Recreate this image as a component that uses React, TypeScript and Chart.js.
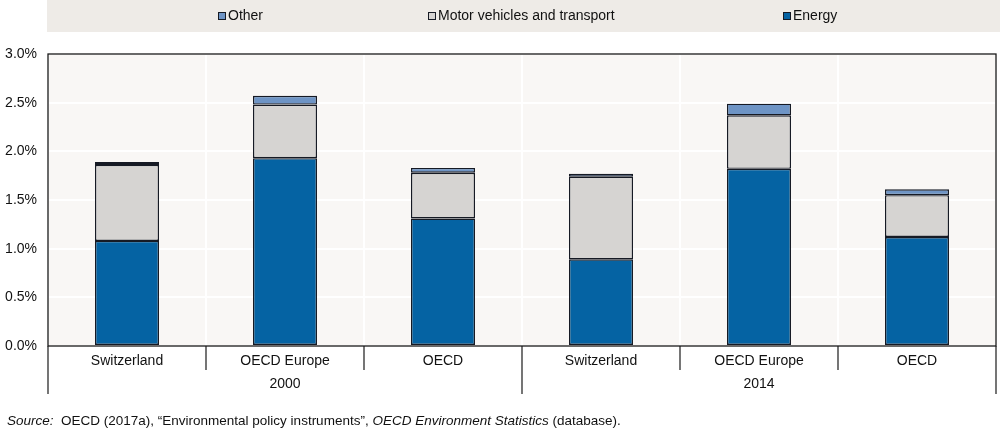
import React, { useEffect, useRef } from "react";
import { Chart, registerables } from "chart.js";

Chart.register(...registerables);

const categories = ["Switzerland", "OECD Europe", "OECD", "Switzerland", "OECD Europe", "OECD"];
const groupLabels = ["2000", "2014"];
const energy = [1.08, 1.93, 1.31, 0.89, 1.82, 1.12];
const motor = [0.78, 0.55, 0.47, 0.85, 0.55, 0.43];
const other = [0.03, 0.09, 0.05, 0.03, 0.12, 0.06];
const yTicks = [0, 0.5, 1, 1.5, 2, 2.5, 3];

const FONT = '"Liberation Sans", Arial, sans-serif';
const C_ENERGY = "#0563A3";
const C_MOTOR = "#D6D4D2";
const C_OTHER = "#6E94C5";
const C_BORDER = "#161a24";

const decorPlugin = {
  id: "decor",
  beforeDraw(chart: any) {
    const { ctx, chartArea: a } = chart;
    ctx.save();
    ctx.fillStyle = "#F9F7F5";
    ctx.fillRect(a.left, a.top, a.right - a.left, a.bottom - a.top);
    ctx.fillStyle = "#EEEBE7";
    ctx.fillRect(47, 0, 953, 32);
    ctx.restore();
  },
  afterDraw(chart: any) {
    const { ctx, chartArea: a } = chart;
    const xs = chart.scales.x;
    ctx.save();
    ctx.strokeStyle = "#1a1a1a";
    ctx.lineWidth = 1.3;
    ctx.strokeRect(a.left, a.top, a.right - a.left, a.bottom - a.top);
    const n = categories.length;
    const step = (a.right - a.left) / n;
    ctx.lineWidth = 1.2;
    for (let i = 0; i <= n; i++) {
      const x = a.left + step * i;
      const long = i === 0 || i === n || i === n / 2;
      ctx.beginPath();
      ctx.moveTo(x, a.bottom);
      ctx.lineTo(x, long ? a.bottom + 48 : a.bottom + 24);
      ctx.stroke();
    }
    ctx.fillStyle = "#111";
    ctx.font = `14px ${FONT}`;
    ctx.textAlign = "center";
    ctx.textBaseline = "middle";
    groupLabels.forEach((g, gi) => {
      const x = xs.getPixelForValue(gi * 3 + 1);
      ctx.fillText(g, x, a.bottom + 38);
    });
    const items = [
      { label: chart.data.datasets[2].label, color: C_OTHER, x: 218 },
      { label: chart.data.datasets[1].label, color: C_MOTOR, x: 428 },
      { label: chart.data.datasets[0].label, color: C_ENERGY, x: 783 },
    ];
    ctx.textAlign = "left";
    items.forEach((it) => {
      ctx.fillStyle = it.color;
      ctx.fillRect(it.x, 12, 8, 8);
      ctx.strokeStyle = C_BORDER;
      ctx.lineWidth = 1;
      ctx.strokeRect(it.x + 0.5, 12.5, 7, 7);
      ctx.fillStyle = "#111";
      ctx.fillText(it.label, it.x + 10, 16.5);
    });
    let x = 7;
    const y = 421;
    const parts: [string, boolean][] = [
      ["Source:", true],
      ["  OECD (2017a), \u201CEnvironmental policy instruments\u201D, ", false],
      ["OECD Environment Statistics", true],
      [" (database).", false],
    ];
    parts.forEach(([t, it]) => {
      ctx.font = `${it ? "italic " : ""}13.5px ${FONT}`;
      ctx.fillText(t, x, y);
      x += ctx.measureText(t).width;
    });
    ctx.restore();
  },
};

export default function App() {
  const ref = useRef<HTMLCanvasElement>(null);
  useEffect(() => {
    if (!ref.current) return;
    const common = { borderColor: C_BORDER, borderWidth: 1.4, borderSkipped: false, barPercentage: 0.405, categoryPercentage: 1 };
    const chart = new Chart(ref.current, {
      type: "bar",
      data: {
        labels: categories,
        datasets: [
          { label: "Energy", data: energy, backgroundColor: C_ENERGY, ...common },
          { label: "Motor vehicles and transport", data: motor, backgroundColor: C_MOTOR, ...common },
          { label: "Other", data: other, backgroundColor: C_OTHER, ...common },
        ],
      },
      options: {
        animation: false,
        responsive: false,
        layout: { padding: { top: 54, right: 4, left: 0, bottom: 0 } },
        plugins: { legend: { display: false }, tooltip: { enabled: false } },
        scales: {
          x: {
            stacked: true,
            offset: true,
            grid: { offset: true, color: "#FFFFFF", lineWidth: 2, drawTicks: false },
            border: { display: false },
            ticks: { color: "#111", font: { family: FONT, size: 14 }, padding: 7, maxRotation: 0, autoSkip: false },
            afterFit(s: any) { s.height = 88; },
          },
          y: {
            stacked: true,
            min: 0,
            max: 3,
            afterBuildTicks(s: any) { s.ticks = yTicks.map((v) => ({ value: v })); },
            grid: { color: "#FFFFFF", lineWidth: 2, drawTicks: false },
            border: { display: false },
            ticks: { color: "#111", font: { family: FONT, size: 14 }, padding: 11, callback: (v: any) => Number(v).toFixed(1) + "%" },
            afterFit(s: any) { s.width = 48; },
          },
        },
      },
      plugins: [decorPlugin],
    });
    return () => chart.destroy();
  }, []);
  return (
    <div style={{ position: "absolute", left: 0, top: 0, width: 1000, height: 434, background: "#fff" }}>
      <canvas ref={ref} width={1000} height={434} style={{ width: 1000, height: 434 }} />
    </div>
  );
}
